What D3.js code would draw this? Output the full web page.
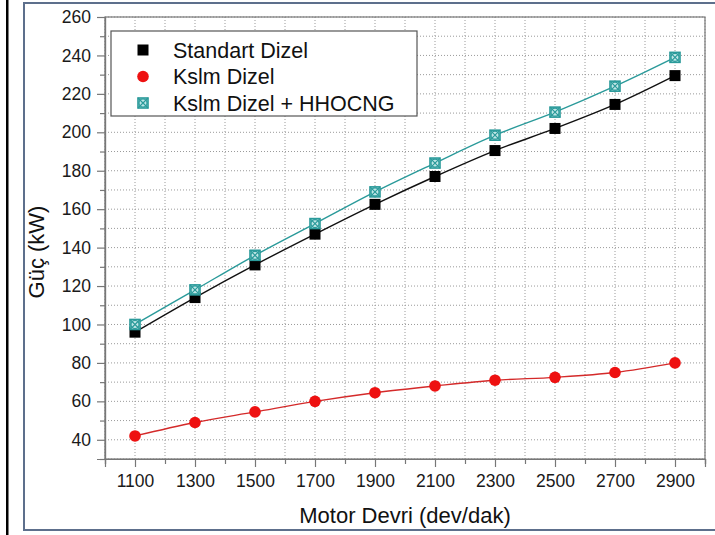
<!DOCTYPE html>
<html>
<head>
<meta charset="utf-8">
<script src="https://cdn.jsdelivr.net/npm/d3@7/dist/d3.min.js"></script>
<style>
  body { margin: 0; background: #fff; }
  svg { display: block; font-family: "Liberation Sans", Arial, sans-serif; }
</style>
</head>
<body>
<div id="chart"></div>
<script>
// engine speed (dev/dak)
var devir = [1100, 1300, 1500, 1700, 1900, 2100, 2300, 2500, 2700, 2900];

// power (kW) per fuel setup
var standartDizel = [96, 114, 131, 147, 162.5, 177, 190.5, 202, 214.5, 229.5];
var kslmDizel = [42, 49, 54.5, 60, 64.5, 68, 71, 72.5, 75, 80];
var kslmHHOCNG = [100, 118, 136, 152.5, 169, 184, 198.5, 210.5, 224, 239];

var seriesNames = ["Standart Dizel", "Kslm Dizel", "Kslm Dizel + HHOCNG"];

var xTicks = [1100, 1300, 1500, 1700, 1900, 2100, 2300, 2500, 2700, 2900];
var yTicks = [40, 60, 80, 100, 120, 140, 160, 180, 200, 220, 240, 260];

var W = 715, H = 535;
var margin = {top: 17, right: 10, bottom: 76, left: 105};
var width = W - margin.left - margin.right;
var height = H - margin.top - margin.bottom;

var x = d3.scaleLinear().domain([1000, 3000]).range([0, width]);
var y = d3.scaleLinear().domain([30, 260]).range([height, 0]);

var svg = d3.select("#chart").append("svg")
    .attr("width", W)
    .attr("height", H);

// outer frame like the pasted picture
svg.append("rect")
    .attr("x", 6).attr("y", 0)
    .attr("width", 2.5).attr("height", H)
    .attr("fill", "#000");
svg.append("rect")
    .attr("x", 24).attr("y", 3)
    .attr("width", W).attr("height", 527)
    .attr("fill", "none")
    .attr("stroke", "#5d6f8c")
    .attr("stroke-width", 2);

var g = svg.append("g")
    .attr("transform", "translate(" + margin.left + "," + margin.top + ")");

// dotted grid
var gridX = d3.range(1000, 3001, 100);
var gridY = d3.range(30, 261, 10);

g.append("g").selectAll("line").data(gridX).enter().append("line")
    .attr("x1", function(d) { return x(d); })
    .attr("x2", function(d) { return x(d); })
    .attr("y1", 0).attr("y2", height)
    .attr("stroke", "#9a9a9a")
    .attr("stroke-dasharray", "1,2");

g.append("g").selectAll("line").data(gridY).enter().append("line")
    .attr("y1", function(d) { return y(d); })
    .attr("y2", function(d) { return y(d); })
    .attr("x1", 0).attr("x2", width)
    .attr("stroke", "#9a9a9a")
    .attr("stroke-dasharray", "1,2");

// plot box
g.append("rect")
    .attr("width", width).attr("height", height)
    .attr("fill", "none")
    .attr("stroke", "#777")
    .attr("stroke-width", 1.2);

// minor ticks
var minorX = d3.range(1000, 3001, 200);
var minorY = d3.range(30, 261, 20);

var xMinor = g.append("g")
    .attr("transform", "translate(0," + height + ")")
    .call(d3.axisBottom(x).tickValues(minorX).tickSize(5).tickFormat(""));
var yMinor = g.append("g")
    .call(d3.axisLeft(y).tickValues(minorY).tickSize(5).tickFormat(""));

// major axes
var xAxis = g.append("g")
    .attr("transform", "translate(0," + height + ")")
    .call(d3.axisBottom(x).tickValues(xTicks).tickSize(8).tickPadding(8).tickFormat(d3.format("d")));
var yAxis = g.append("g")
    .call(d3.axisLeft(y).tickValues(yTicks).tickSize(8).tickPadding(6).tickFormat(d3.format("d")));

[xMinor, yMinor, xAxis, yAxis].forEach(function(a) {
    a.attr("font-family", null).attr("font-size", null);
    a.select(".domain").attr("stroke", "#777").attr("stroke-width", 1.2);
    a.selectAll(".tick line").attr("stroke", "#777").attr("stroke-width", 1.2);
    a.selectAll(".tick text")
        .attr("fill", "#1a1a1a")
        .style("font-family", "'Liberation Sans', Arial, sans-serif")
        .style("font-size", "17.5px");
});

// axis titles
g.append("text")
    .attr("x", width / 2)
    .attr("y", height + 64)
    .attr("text-anchor", "middle")
    .style("font-size", "22px")
    .attr("fill", "#111")
    .text("Motor Devri (dev/dak)");

g.append("text")
    .attr("transform", "rotate(-90)")
    .attr("x", -(252 - margin.top))
    .attr("y", -margin.left + 44)
    .attr("text-anchor", "middle")
    .style("font-size", "22px")
    .attr("fill", "#111")
    .text("Güç (kW)");

// series
var colors = ["#000000", "#ee1111", "#2a9a9a"];
var lineColors = ["#111111", "#d42a2a", "#2a9a9a"];
var allSeries = [standartDizel, kslmDizel, kslmHHOCNG];

var line = d3.line()
    .x(function(d) { return x(d[0]); })
    .y(function(d) { return y(d[1]); })
    .curve(d3.curveCatmullRom);

allSeries.forEach(function(vals, i) {
    var pts = devir.map(function(d, j) { return [d, vals[j]]; });
    g.append("path")
        .datum(pts)
        .attr("fill", "none")
        .attr("stroke", lineColors[i])
        .attr("stroke-width", 1.4)
        .attr("d", line);
});

function drawMarker(sel, i, cx, cy) {
    if (i === 0) {
        sel.append("rect")
            .attr("x", cx - 5.5).attr("y", cy - 5.5)
            .attr("width", 11).attr("height", 11)
            .attr("fill", colors[0]);
    } else if (i === 1) {
        sel.append("circle")
            .attr("cx", cx).attr("cy", cy).attr("r", 5.8)
            .attr("fill", colors[1]);
    } else {
        var s = 5;
        sel.append("rect")
            .attr("x", cx - s).attr("y", cy - s)
            .attr("width", 2 * s).attr("height", 2 * s)
            .attr("fill", "#bfe6e6")
            .attr("stroke", colors[2]).attr("stroke-width", 1.6);
        sel.append("circle")
            .attr("cx", cx).attr("cy", cy).attr("r", s - 1)
            .attr("fill", "none")
            .attr("stroke", colors[2]).attr("stroke-width", 1.2);
        sel.append("path")
            .attr("d", "M" + (cx - s) + "," + (cy - s) + "L" + (cx + s) + "," + (cy + s) +
                       "M" + (cx + s) + "," + (cy - s) + "L" + (cx - s) + "," + (cy + s))
            .attr("stroke", colors[2]).attr("stroke-width", 1.2);
    }
}

allSeries.forEach(function(vals, i) {
    var mg = g.append("g");
    devir.forEach(function(d, j) {
        drawMarker(mg, i, x(d), y(vals[j]));
    });
});

// legend
var legend = svg.append("g");
legend.append("rect")
    .attr("x", 111).attr("y", 31)
    .attr("width", 306).attr("height", 85)
    .attr("fill", "#fff")
    .attr("stroke", "#555")
    .attr("stroke-width", 1.2);

seriesNames.forEach(function(name, i) {
    var cy = 50 + i * 26.5;
    drawMarker(legend, i, 143, cy);
    legend.append("text")
        .attr("x", 173)
        .attr("y", cy)
        .attr("dy", "0.36em")
        .style("font-size", "21.5px")
        .attr("fill", "#111")
        .text(name);
});
</script>
</body>
</html>
